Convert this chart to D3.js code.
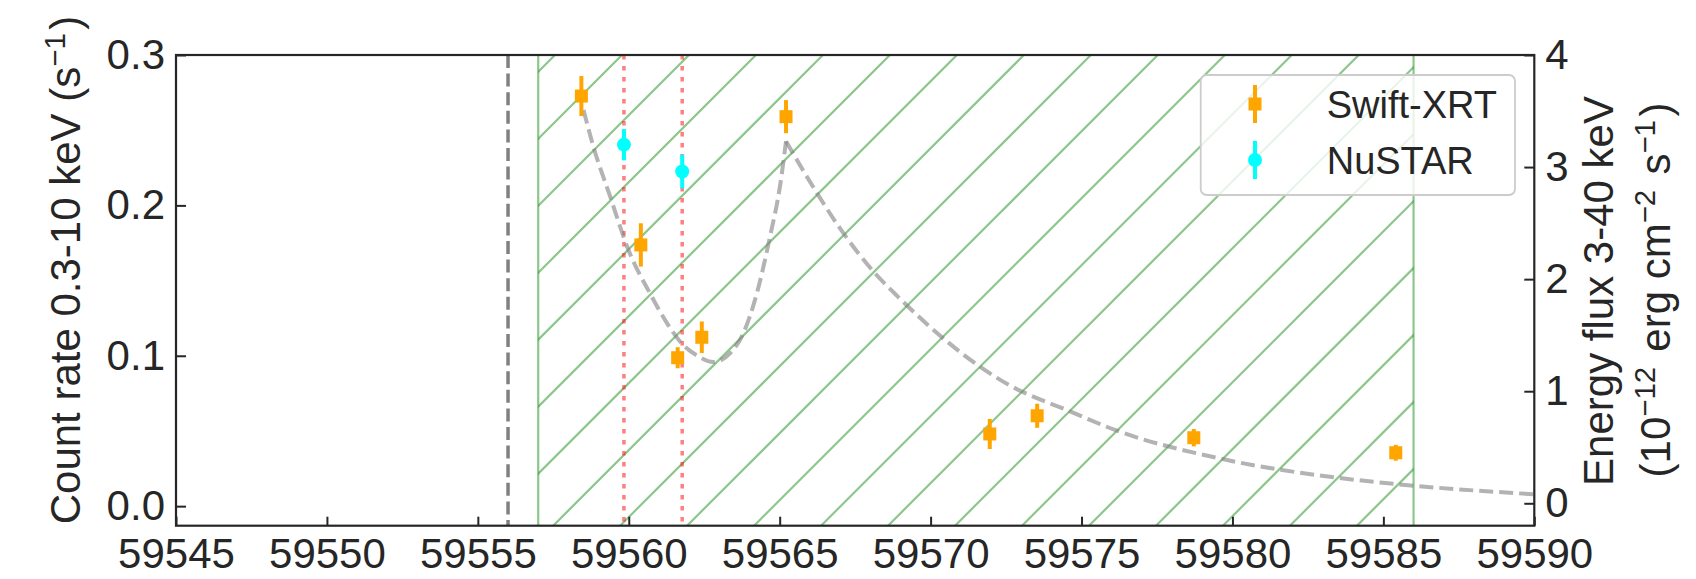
<!DOCTYPE html>
<html>
<head>
<meta charset="utf-8">
<script src="https://cdn.jsdelivr.net/npm/d3@7"></script>
<style>
  html, body { margin: 0; padding: 0; background: #ffffff; }
  svg { display: block; font-family: "Liberation Sans", Arial, sans-serif; }
</style>
</head>
<body>
<svg id="chart" width="1696" height="579"></svg>
<script>
// Swift-XRT count rates (0.3-10 keV), left axis
const swiftMJD  = [59558.43, 59560.40, 59561.62, 59562.42, 59565.21, 59571.96, 59573.53, 59578.72, 59585.41];
const swiftRate = [0.2727, 0.1737, 0.0987, 0.1123, 0.2590, 0.0480, 0.0601, 0.0455, 0.0355];
const swiftErr  = [0.0133, 0.0144, 0.0070, 0.0105, 0.0110, 0.0100, 0.0080, 0.0058, 0.0053];

// NuSTAR energy flux (3-40 keV, 1e-12 erg/cm2/s), right axis
const nustarMJD  = [59559.84, 59561.77];
const nustarFlux = [3.20, 2.96];
const nustarErr  = [0.14, 0.15];

// Reference epochs
const onsetMJD  = [59556.0];
const windowMJD = [59557.0, 59586.0];

// Light-curve model (flux units)
const modelMJD  = [59558.50, 59558.83, 59559.38, 59559.99, 59560.71, 59561.26, 59561.81, 59562.25,
                   59562.80, 59563.36, 59563.80, 59564.24, 59564.68, 59565.01, 59565.21,
                   59566.23, 59567.11, 59568.10, 59568.93, 59572.57, 59574.62, 59576.15,
                   59579.58, 59583.42, 59585.48, 59590.00];
const modelFlux = [3.51, 3.18, 2.74, 2.26, 1.87, 1.61, 1.41, 1.32,
                   1.26, 1.34, 1.52, 1.87, 2.38, 2.83, 3.23,
                   2.77, 2.41, 2.07, 1.84, 1.06, 0.82, 0.65,
                   0.40, 0.23, 0.17, 0.08];
const modelPeakIndex = 14;

// Axis ticks and legend
const xTicks     = [59545, 59550, 59555, 59560, 59565, 59570, 59575, 59580, 59585, 59590];
const rateTicks  = [0.0, 0.1, 0.2, 0.3];
const fluxTicks  = [0, 1, 2, 3, 4];
const legendLabels = ["Swift-XRT", "NuSTAR"];

const ink = "#262626";
const orange = "#ffa500";
const cyan = "#00ffff";

const L = 176, R = 1534.3, T = 55, B = 525.7;
const svg = d3.select("#chart");

const x  = d3.scaleLinear().domain([59545, 59590]).range([L, R]);
const yL = d3.scaleLinear().domain([-0.013, 0.3]).range([B, T]);
const yR = d3.scaleLinear().domain([-0.2, 4.0]).range([B, T]);

svg.append("defs").append("clipPath").attr("id", "plotClip")
  .append("rect").attr("x", L).attr("y", T).attr("width", R - L).attr("height", B - T);
svg.select("defs").append("clipPath").attr("id", "windowClip")
  .append("rect")
  .attr("x", x(windowMJD[0])).attr("y", T)
  .attr("width", x(windowMJD[1]) - x(windowMJD[0])).attr("height", B - T);

// Hatched observing window
const hatchColor = "rgba(0,128,0,0.45)";
const hatchStep = 66.98, hatchPhase = 610;
const gHatch = svg.append("g").attr("clip-path", "url(#windowClip)");
const cMin = x(windowMJD[0]) + T, cMax = x(windowMJD[1]) + B;
const k0 = Math.floor((cMin - hatchPhase) / hatchStep) - 1;
const k1 = Math.ceil((cMax - hatchPhase) / hatchStep) + 1;
gHatch.selectAll("line").data(d3.range(k0, k1 + 1)).join("line")
  .attr("x1", k => hatchPhase + k * hatchStep - B).attr("y1", B)
  .attr("x2", k => hatchPhase + k * hatchStep - T).attr("y2", T)
  .attr("stroke", hatchColor).attr("stroke-width", 2.2);
svg.append("g").selectAll("line").data(windowMJD).join("line")
  .attr("x1", d => x(d)).attr("x2", d => x(d)).attr("y1", T).attr("y2", B)
  .attr("stroke", hatchColor).attr("stroke-width", 2.2);

// Onset marker
svg.append("g").selectAll("line").data(onsetMJD).join("line")
  .attr("x1", d => x(d)).attr("x2", d => x(d)).attr("y1", T).attr("y2", B)
  .attr("stroke", "#808080").attr("stroke-width", 3.5).attr("stroke-dasharray", "13,5.6");

// NuSTAR epochs
svg.append("g").selectAll("line").data(nustarMJD).join("line")
  .attr("x1", d => x(d)).attr("x2", d => x(d)).attr("y1", T).attr("y2", B)
  .attr("stroke", "rgba(255,0,0,0.5)").attr("stroke-width", 3.5).attr("stroke-dasharray", "4.5,6.5");

// Model curve (cusp at the flare peak)
const model = modelMJD.map((t, i) => ({ t, f: modelFlux[i] }));
const lineGen = d3.line().x(d => x(d.t)).y(d => yR(d.f)).curve(d3.curveMonotoneX);
const gModel = svg.append("g").attr("clip-path", "url(#plotClip)");
[model.slice(0, modelPeakIndex + 1), model.slice(modelPeakIndex)].forEach(seg => {
  gModel.append("path").attr("d", lineGen(seg))
    .attr("fill", "none").attr("stroke", "rgba(128,128,128,0.6)")
    .attr("stroke-width", 4).attr("stroke-dasharray", "14,6");
});

// Swift-XRT points
const swift = swiftMJD.map((t, i) => ({ t, v: swiftRate[i], e: swiftErr[i] }));
const gS = svg.append("g");
gS.selectAll("line").data(swift).join("line")
  .attr("x1", d => x(d.t)).attr("x2", d => x(d.t))
  .attr("y1", d => yL(d.v - d.e)).attr("y2", d => yL(d.v + d.e))
  .attr("stroke", orange).attr("stroke-width", 4);
gS.selectAll("rect").data(swift).join("rect")
  .attr("x", d => x(d.t) - 6.5).attr("y", d => yL(d.v) - 6.5)
  .attr("width", 13).attr("height", 13).attr("fill", orange);

// NuSTAR points
const nustar = nustarMJD.map((t, i) => ({ t, v: nustarFlux[i], e: nustarErr[i] }));
const gN = svg.append("g");
gN.selectAll("line").data(nustar).join("line")
  .attr("x1", d => x(d.t)).attr("x2", d => x(d.t))
  .attr("y1", d => yR(d.v - d.e)).attr("y2", d => yR(d.v + d.e))
  .attr("stroke", cyan).attr("stroke-width", 4);
gN.selectAll("circle").data(nustar).join("circle")
  .attr("cx", d => x(d.t)).attr("cy", d => yR(d.v)).attr("r", 7).attr("fill", cyan);

// Axes
const fs = 42;
function styleAxis(g) {
  g.select(".domain").remove();
  g.selectAll(".tick line").attr("stroke", ink).attr("stroke-width", 2);
  g.selectAll(".tick text").attr("fill", ink).attr("font-size", fs)
    .attr("font-family", "'Liberation Sans', Arial, sans-serif");
}
svg.append("g").attr("transform", `translate(0,${B})`)
  .call(d3.axisBottom(x).tickValues(xTicks).tickFormat(d3.format("d"))
        .tickSizeInner(-9).tickSizeOuter(0).tickPadding(12))
  .call(styleAxis);
svg.append("g").attr("transform", `translate(${L},0)`)
  .call(d3.axisLeft(yL).tickValues(rateTicks).tickFormat(d3.format(".1f"))
        .tickSizeInner(-10).tickSizeOuter(0).tickPadding(11))
  .call(styleAxis);
svg.append("g").attr("transform", `translate(${R},0)`)
  .call(d3.axisRight(yR).tickValues(fluxTicks).tickFormat(d3.format("d"))
        .tickSizeInner(-10).tickSizeOuter(0).tickPadding(11))
  .call(styleAxis);

// Frame
svg.append("rect").attr("x", L).attr("y", T).attr("width", R - L).attr("height", B - T)
  .attr("fill", "none").attr("stroke", ink).attr("stroke-width", 2.2);

// Axis labels
function label(parts, tx, ty, rot) {
  const t = svg.append("text")
    .attr("transform", `translate(${tx},${ty}) rotate(${rot})`)
    .attr("text-anchor", "middle").attr("fill", ink).attr("font-size", fs);
  parts.forEach(p => {
    if (p.sup) {
      t.append("tspan").attr("dy", -15).attr("font-size", fs * 0.7).text(p.sup);
      t.append("tspan").attr("dy", 15).text("\u200A");
    } else {
      t.append("tspan").text(p.txt);
    }
  });
  return t;
}
label([{ txt: "Count rate 0.3-10 keV (s" }, { sup: "\u22121" }, { txt: ")" }], 80, 270, -90);
label([{ txt: "Energy flux 3-40 keV" }], 1613, 291, -90);
label([{ txt: "(10" }, { sup: "\u221212" }, { txt: " erg cm" }, { sup: "\u22122" }, { txt: " s" }, { sup: "\u22121" }, { txt: ")" }], 1670, 290, -90);

// Legend
const lg = svg.append("g");
lg.append("rect").attr("x", 1200.7).attr("y", 75).attr("width", 314.3).attr("height", 120)
  .attr("rx", 6).attr("fill", "rgba(255,255,255,0.8)")
  .attr("stroke", "#cccccc").attr("stroke-width", 1.8);
const legendRows = legendLabels.map((name, i) => ({ name, y: 104 + i * 56 }));
legendRows.forEach((r, i) => {
  lg.append("line").attr("x1", 1255).attr("x2", 1255).attr("y1", r.y - 19).attr("y2", r.y + 19)
    .attr("stroke", i === 0 ? orange : cyan).attr("stroke-width", 4);
  if (i === 0) {
    lg.append("rect").attr("x", 1255 - 6.5).attr("y", r.y - 6.5).attr("width", 13).attr("height", 13).attr("fill", orange);
  } else {
    lg.append("circle").attr("cx", 1255).attr("cy", r.y).attr("r", 7).attr("fill", cyan);
  }
  lg.append("text").attr("x", 1326.7).attr("y", r.y + 13.5)
    .attr("fill", ink).attr("font-size", 38).text(r.name);
});
</script>
</body>
</html>
